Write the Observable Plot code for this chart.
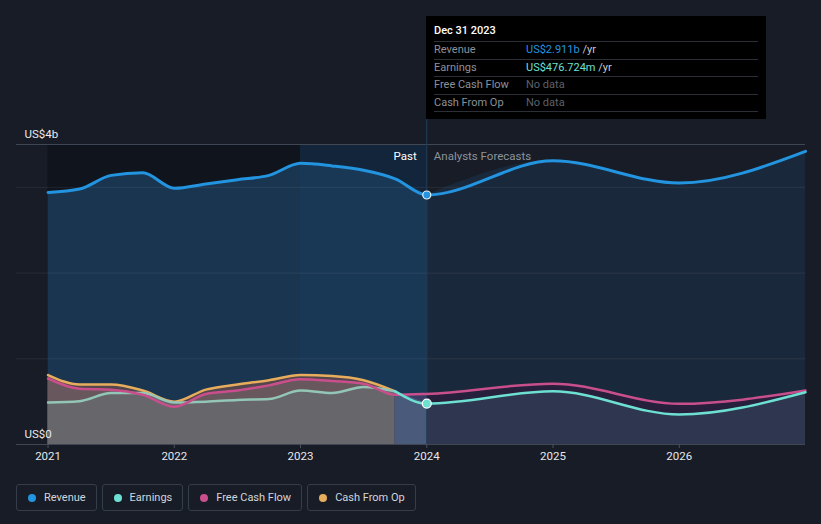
<!DOCTYPE html>
<html>
<head>
<meta charset="utf-8">
<script src="https://cdn.jsdelivr.net/npm/d3@7"></script>
<script src="https://cdn.jsdelivr.net/npm/@observablehq/plot@0.6"></script>
<style>
  html, body { margin: 0; padding: 0; background: #171c26; }
  body { width: 821px; height: 524px; position: relative; overflow: hidden; font-family: Roboto, "Open Sans", sans-serif; }
  #chart svg { display: block; }
  .tip { position: absolute; left: 426px; top: 16px; width: 340px; height: 103px; background: #000; color: #e8eaed; font-size: 11px; box-sizing: border-box; padding: 0 8px; }
  .tip .title { height: 26px; box-sizing: border-box; line-height: 30px; font-weight: 500; color: #fff; border-bottom: 1px solid #2c2f36; }
  .tip .row { height: 17.5px; box-sizing: border-box; line-height: 16px; border-bottom: 1px solid #2c2f36; display: flex; white-space: pre; }
  .tip .lab { width: 92px; color: #8c9199; }
  .tip .unit { color: #c8ccd2; }
  .tip .nd { color: #5d6168; }
  .legend { display: flex; gap: 5px; margin-left: 16px; margin-top: 14px; }
  .legend .item { height: 27px; box-sizing: border-box; border: 1px solid #363d4a; border-radius: 3px; display: flex; align-items: center; padding: 0 10px 0 11px; color: #d3d6db; font-size: 11px; }
  .legend .dot { width: 8px; height: 8px; border-radius: 50%; margin-right: 8px; }
</style>
</head>
<body>
<div id="chart"></div>
<div class="tip" id="tip"></div>
<div class="legend" id="legend"></div>
<script>
// ---- data (billions US$) ----
const years = [2021, 2021.25, 2021.5, 2021.75, 2022, 2022.25, 2022.5, 2022.75, 2023, 2023.25, 2023.5, 2023.75, 2024, 2025, 2026, 2027];
const revenue = [2.94, 2.98, 3.14, 3.17, 2.99, 3.04, 3.09, 3.14, 3.28, 3.25, 3.20, 3.10, 2.911, 3.31, 3.05, 3.42];
const earnings = [0.49, 0.505, 0.60, 0.60, 0.49, 0.50, 0.52, 0.53, 0.63, 0.60, 0.67, 0.62, 0.477, 0.62, 0.35, 0.61];
const freeCashFlow = [0.77, 0.65, 0.64, 0.58, 0.44, 0.59, 0.63, 0.69, 0.76, 0.74, 0.71, 0.58, 0.59, 0.71, 0.475, 0.63];
const cashFromOp = [0.81, 0.70, 0.70, 0.63, 0.50, 0.64, 0.70, 0.75, 0.81, 0.80, 0.75, 0.62, null, null, null, null];

const xTicks = [2021, 2022, 2023, 2024, 2025, 2026];
const pastStart = 2021, highlightStart = 2023, lastReported = 2023.75, now = 2024;
const seriesNames = ["Revenue", "Earnings", "Free Cash Flow", "Cash From Op"];
const seriesColors = ["#2394df", "#6ee0d2", "#c94f8c", "#e8ad5c"];
const yTop = 3.5, yGrid = [1, 2, 3], tipTop = 3.8;
const yLabels = ["US$4b", "US$0"];

const rows = years.map((x, i) => ({x, revenue: revenue[i], earnings: earnings[i], fcf: freeCashFlow[i], cfo: cashFromOp[i]}));
const revPast = rows.filter(d => d.x <= now);
const revFc = rows.filter(d => d.x >= now);
const pastQ = rows.filter(d => d.x <= lastReported);
const recent = rows.filter(d => d.x >= lastReported);
const gap = rows.filter(d => d.x >= lastReported && d.x <= now);
const nowRow = rows.filter(d => d.x === now);
const curve = "monotone-x";

const chart = Plot.plot({
  width: 821, height: 470,
  marginTop: 144, marginBottom: 26, marginLeft: 16, marginRight: 16,
  x: {domain: [2020.75, 2027], axis: null},
  y: {domain: [0, yTop], axis: null},
  style: {background: "transparent", fontFamily: "Roboto, sans-serif", fontSize: "11px", color: "#e6e8eb"},
  marks: [
    Plot.rect([{a: pastStart, b: highlightStart}], {x1: "a", x2: "b", y1: 0, y2: yTop, fill: "#10141c"}),
    Plot.rect([{a: highlightStart, b: now}], {x1: "a", x2: "b", y1: 0, y2: yTop, fill: "#13253a"}),
    Plot.areaY(revPast, {x: "x", y: "revenue", curve, fill: "#1c3d5e", fillOpacity: 0.8}),
    Plot.areaY(revFc, {x: "x", y: "revenue", curve, fill: "#1a283b"}),
    Plot.areaY(pastQ, {x: "x", y: "cfo", curve, fill: "#54464c"}),
    Plot.areaY(pastQ, {x: "x", y: "fcf", curve, fill: "#68585d"}),
    Plot.areaY(pastQ, {x: "x", y: "earnings", curve, fill: "#66666b"}),
    Plot.areaY(recent, {x: "x", y: "fcf", curve, fill: "#3a1540", fillOpacity: 0.4}),
    Plot.areaY(recent, {x: "x", y: "earnings", curve, fill: "#6ee0d2", fillOpacity: 0.12}),
    Plot.areaY(gap, {x: "x", y: "fcf", curve, fill: "#3a3d68"}),
    Plot.areaY(gap, {x: "x", y: "earnings", curve, fill: "#4a5a7a"}),
    Plot.ruleY(yGrid, {stroke: "#ffffff", strokeOpacity: 0.07}),
    Plot.ruleY([yTop], {stroke: "#3f4654"}),
    Plot.ruleY([0], {stroke: "#3f4654"}),
    Plot.ruleX([now], {y1: 0, y2: tipTop, stroke: "#22405d"}),
    Plot.line(rows, {x: "x", y: "revenue", curve, stroke: seriesColors[0], strokeWidth: 3}),
    Plot.line(pastQ, {x: "x", y: "cfo", curve, stroke: seriesColors[3], strokeWidth: 2.5}),
    Plot.line(pastQ, {x: "x", y: "earnings", curve, stroke: "#93c6b6", strokeWidth: 2.5}),
    Plot.line(rows, {x: "x", y: "fcf", curve, stroke: seriesColors[2], strokeWidth: 2.5}),
    Plot.line(recent, {x: "x", y: "earnings", curve, stroke: seriesColors[1], strokeWidth: 2.5}),
    Plot.dot(nowRow, {x: "x", y: "revenue", r: 4, fill: seriesColors[0], stroke: "#e8f2fb", strokeWidth: 1.2}),
    Plot.dot(nowRow, {x: "x", y: "earnings", r: 4.5, fill: seriesColors[1], stroke: "#ffffff", strokeWidth: 1.2}),
    Plot.text([yLabels[0]], {frameAnchor: "top-left", text: d => d, dx: 8, dy: -7, lineAnchor: "bottom", textAnchor: "start", fill: "#e8eaed", fontSize: 11.5}),
    Plot.text([yLabels[1]], {frameAnchor: "bottom-left", text: d => d, dx: 8, dy: -7, lineAnchor: "bottom", textAnchor: "start", fill: "#e8eaed", fontSize: 11.5}),
    Plot.text(["Past"], {x: now, y: yTop, text: d => d, dx: -10, dy: 12, textAnchor: "end", fill: "#ffffff", fontSize: 11.5}),
    Plot.text(["Analysts Forecasts"], {x: now, y: yTop, text: d => d, dx: 7, dy: 12, textAnchor: "start", fill: "#8d939c", fontSize: 11.5}),
    Plot.axisX(xTicks, {tickFormat: d => String(d), tickSize: 4, tickPadding: 3, stroke: "#4a5260", fill: "#e6e8eb", fontSize: 11.5})
  ]
});
document.getElementById("chart").appendChild(chart);

// tooltip
const tipRows = [
  {label: "Revenue", value: "US$2.911b", color: seriesColors[0], unit: " /yr"},
  {label: "Earnings", value: "US$476.724m", color: seriesColors[1], unit: " /yr"},
  {label: "Free Cash Flow", value: null},
  {label: "Cash From Op", value: null}
];
const tip = document.getElementById("tip");
tip.innerHTML = `<div class="title">Dec 31 2023</div>` + tipRows.map(r =>
  `<div class="row"><span class="lab">${r.label}</span>` +
  (r.value ? `<span style="color:${r.color}">${r.value}</span><span class="unit">${r.unit}</span>` : `<span class="nd">No data</span>`) +
  `</div>`).join("");

// legend
document.getElementById("legend").innerHTML = seriesNames.map((n, i) =>
  `<div class="item"><span class="dot" style="background:${seriesColors[i]}"></span>${n}</div>`).join("");
</script>
</body>
</html>
